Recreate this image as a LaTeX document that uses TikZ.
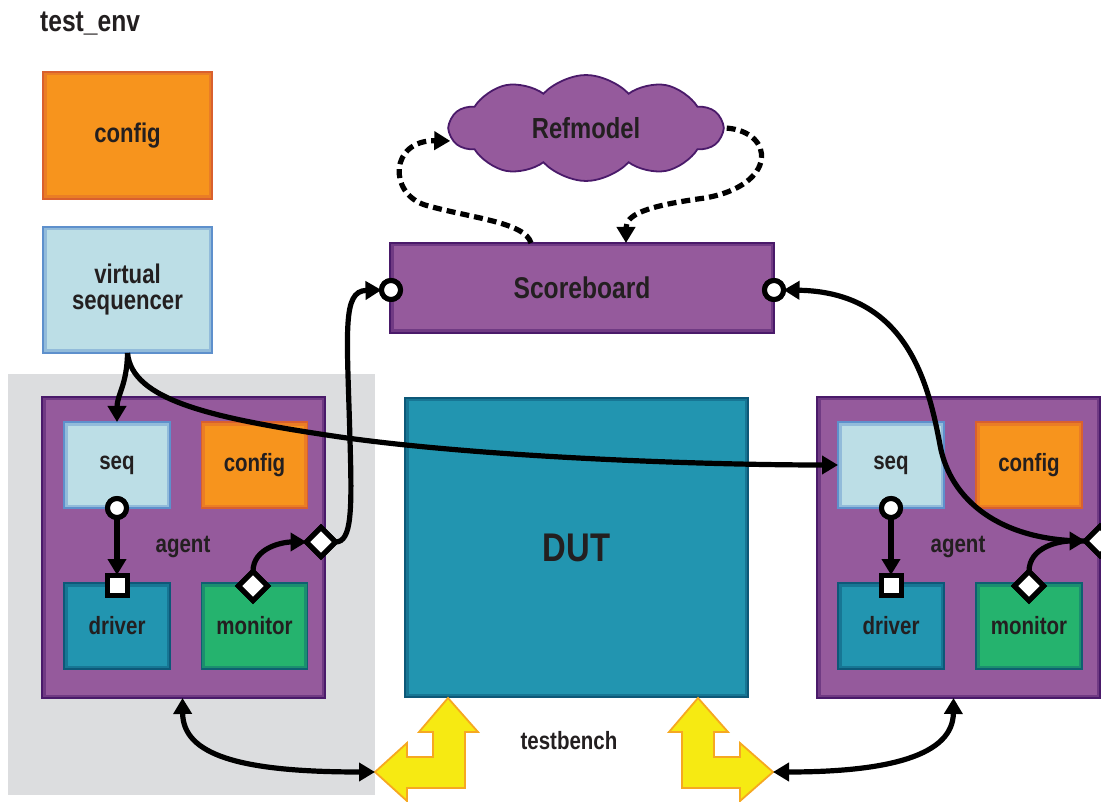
\documentclass[tikz,border=0pt]{standalone}
\usepackage{fontspec}
\setmainfont{Liberation Sans}[FakeStretch=0.82]
\usetikzlibrary{shapes.geometric,shapes.symbols,arrows.meta}

\definecolor{ink}{HTML}{231F20}
\definecolor{org}{HTML}{F7941D}
\definecolor{orgdk}{HTML}{D9602E}
\definecolor{lblu}{HTML}{BCDEE6}
\definecolor{lbludk}{HTML}{5E90CC}
\definecolor{purp}{HTML}{955A9C}
\definecolor{purpdk}{HTML}{4A1A6A}
\definecolor{tealc}{HTML}{2295B0}
\definecolor{tealdk}{HTML}{0D5878}
\definecolor{grn}{HTML}{25B36E}
\definecolor{grndk}{HTML}{0E6070}
\definecolor{envgray}{HTML}{DCDDDF}
\definecolor{yel}{HTML}{F6EA12}
\definecolor{yeldk}{HTML}{F6A821}

\tikzset{
  bev/.style n args={3}{rectangle, fill=#1, draw=#2, line width=1.8pt,
    inner sep=0pt, outer sep=0pt, text=ink,
    font=\bfseries\fontsize{25}{25}\selectfont,
    path picture={\draw[line width=7pt, draw=#3]
      (path picture bounding box.south west) rectangle
      (path picture bounding box.north east);}},
  orangebox/.style={bev={org}{orgdk}{orgdk!45!org}},
  bluebox/.style={bev={lblu}{lbludk}{lbludk!45!lblu}},
  purplebox/.style={bev={purp}{purpdk}{purpdk!50!purp}},
  tealbox/.style={bev={tealc}{tealdk}{tealdk!50!tealc}},
  greenbox/.style={bev={grn}{grndk}{grndk!45!grn}},
  inbox/.style={minimum width=106pt, minimum height=86pt},
  agentbox/.style={purplebox, minimum width=283pt, minimum height=301pt},
  lbl/.style={text=ink, font=\bfseries\fontsize{25}{25}\selectfont, inner sep=0pt},
  portc/.style={circle, fill=white, draw=black, line width=5pt,
    minimum size=19pt, inner sep=0pt, outer sep=0pt},
  ports/.style={rectangle, fill=white, draw=black, line width=5pt,
    minimum size=20pt, inner sep=0pt, outer sep=0pt},
  portd/.style={diamond, fill=white, draw=black, line width=5pt,
    minimum size=29pt, inner sep=0pt, outer sep=0pt},
  tip/.tip={Triangle[length=16pt,width=18pt]},
  wire/.style={draw=black, line width=5.2pt, -tip},
  bwire/.style={draw=black, line width=5.2pt, tip-tip},
  dwire/.style={draw=black, line width=5.2pt, dash pattern=on 9pt off 5pt, -tip},
  bigarrow/.style={fill=yel, draw=yeldk, line width=1.8pt, line join=miter},
}

\begin{document}
\begin{tikzpicture}[x=1pt,y=-1pt]
  % canvas
  \fill[white] (0,0) rectangle (1101,802);
  \useasboundingbox (0,0) rectangle (1101,802);

  % title
  \node[lbl, font=\bfseries\fontsize{30}{30}\selectfont, anchor=base west]
    (title) at (40,32) {test\_env};

  % environment level components
  \node[orangebox, minimum width=169pt, minimum height=127pt,
        font=\bfseries\fontsize{27}{27}\selectfont] (cfg) at (127.5,135.5) {config};
  \node[bluebox, minimum width=169pt, minimum height=126pt, align=center,
        font=\bfseries\fontsize{27}{26}\selectfont] (vseq) at (127.5,290) {virtual\\sequencer};

  % shaded region behind the left agent
  \fill[envgray] (8,374) rectangle (375,795);

  % left agent
  \node[agentbox] (lag) at (183.5,547.5) {};
  \node[bluebox, inbox] (lseq) at (117,465) {seq};
  \node[orangebox, inbox] (lcfg) at (254.5,465) {config};
  \node[tealbox, inbox] (ldrv) at (117,626) {driver};
  \node[greenbox, inbox] (lmon) at (254.5,626) {monitor};
  \node[lbl] (lagl) at (183,547) {agent};

  % right agent
  \node[agentbox] (rag) at (958.5,547.5) {};
  \node[bluebox, inbox] (rseq) at (891,465) {seq};
  \node[orangebox, inbox] (rcfg) at (1029,465) {config};
  \node[tealbox, inbox] (rdrv) at (891,626) {driver};
  \node[greenbox, inbox] (rmon) at (1029,626) {monitor};
  \node[lbl] (ragl) at (958,547) {agent};

  % device under test
  \node[tealbox, minimum width=343pt, minimum height=299pt,
        font=\bfseries\fontsize{40}{40}\selectfont] (dut) at (576.5,547.5) {DUT};

  % scoreboard and reference model
  \node[purplebox, minimum width=384pt, minimum height=90pt,
        font=\bfseries\fontsize{30}{30}\selectfont] (sb) at (582,288) {Scoreboard};
  \node[cloud, cloud puffs=10, cloud puff arc=95, cloud ignores aspect,
        fill=purp, draw=purpdk, line width=1.8pt, inner sep=0pt,
        minimum width=272pt, minimum height=106pt, text=ink,
        font=\bfseries\fontsize{29}{29}\selectfont] (ref) at (586,128) {Refmodel};

  \node[lbl] (tb) at (569,741) {testbench};

  % pin-to-pin interface arrows
  \coordinate (ytipL) at (375,772);
  \coordinate (ytipR) at (773,772);
  \path[bigarrow] (448,698) -- (478,732) -- (465,732) -- (465,788) -- (407,788)
    -- (407,801) -- (ytipL) -- (407,743) -- (407,757) -- (433,757) -- (433,732)
    -- (419,732) -- cycle;
  \path[bigarrow] (698,698) -- (728,732) -- (714,732) -- (714,757) -- (740,757)
    -- (740,743) -- (ytipR) -- (740,801) -- (740,788) -- (682,788) -- (682,732)
    -- (669,732) -- cycle;

  % ports
  \node[portc] (sbL) at (391,290) {};
  \node[portc] (sbR) at (774,290) {};
  \node[portc] (lseqP) at (117,508) {};
  \node[ports] (ldrvP) at (117,585) {};
  \node[portd] (lmonP) at (253,586) {};
  \node[portd] (lagP) at (321,542) {};
  \node[portc] (rseqP) at (891,508) {};
  \node[ports] (rdrvP) at (891,585) {};
  \node[portd] (rmonP) at (1029,586) {};
  \node[portd] (ragP) at (1100,541) {};

  % connections
  \draw[dwire] ([xshift=-51pt]sb.north) .. controls (525,222) and (470,218) .. (425,205)
    .. controls (388,193) and (390,140) .. ([xshift=3pt,yshift=-13pt]ref.west);
  \draw[dwire] ([xshift=2pt]ref.east) .. controls (775,132) and (778,185) .. (705,198)
    .. controls (645,206) and (626,215) .. ([xshift=44pt]sb.north);

  \draw[wire] (vseq.south) .. controls (127,385) and (117,395) .. (lseq.north);
  \draw[wire] (vseq.south) .. controls (132,400) and (210,418) .. (340,437)
    .. controls (480,457) and (700,465) .. (rseq.west);

  \draw[wire] (lseqP.south) -- (ldrvP.north);
  \draw[wire] (lmonP.north) to[out=90,in=180] (lagP.west);
  \draw[wire] (lagP.east) .. controls (352,542) and (352,510) .. (350,440)
    .. controls (347,330) and (342,291) .. (sbL.west);

  \draw[wire] (rseqP.south) -- (rdrvP.north);
  \draw[wire] (rmonP.north) to[out=90,in=180] (ragP.west);
  \draw[wire] (ragP.west) .. controls (1000,541) and (950,500) .. (940,445)
    .. controls (928,380) and (905,292) .. (sbR.east);

  \draw[bwire] ([xshift=-1pt]lag.south) .. controls (183,755) and (240,772) .. (ytipL);
  \draw[bwire] ([xshift=-5pt]rag.south) .. controls (953,755) and (890,772) .. (ytipR);

  % redraw ports above the wires
  \foreach \p/\s in {sbL/portc, sbR/portc, lseqP/portc, rseqP/portc,
                     ldrvP/ports, rdrvP/ports, lmonP/portd, lagP/portd,
                     rmonP/portd, ragP/portd}
    \node[\s] at (\p) {};
\end{tikzpicture}
\end{document}
